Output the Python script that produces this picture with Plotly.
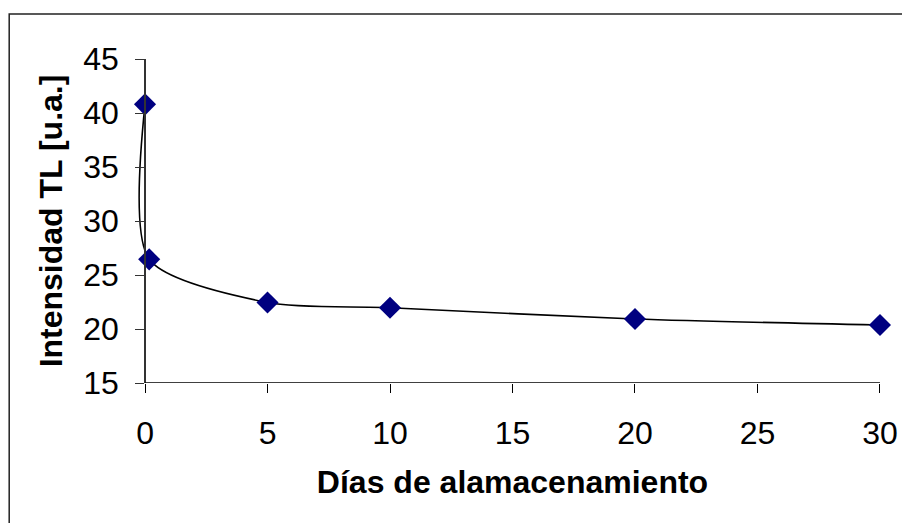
import plotly.graph_objects as go

dias = [0, 0.17, 5, 10, 20, 30]
intensidad = [40.8, 26.45, 22.45, 21.97, 20.93, 20.37]

x_ticks = [0, 5, 10, 15, 20, 25, 30]
y_ticks = [15, 20, 25, 30, 35, 40, 45]

X_PAD = 0.45
X_LO, X_HI = 0, 30
X_MIN, X_MAX = X_LO - X_PAD, X_HI + X_PAD
Y_MIN, Y_MAX = 15, 45

FONT = "Liberation Sans, Arial, sans-serif"

# page body adds an 8px offset; figure is sized to the visible area
W, H = 902, 515
X0_PX, X30_PX = 137, 874          # pixel position of x=0 and x=30
unit = (X30_PX - X0_PX) / (X_HI - X_LO)
L = X0_PX - X_PAD * unit
R = W - (X30_PX + X_PAD * unit)
T, B = 51, 140
pw, ph = W - L - R, H - T - B

fig = go.Figure()
fig.add_trace(go.Scatter(
    x=dias, y=intensidad, mode="lines+markers",
    line=dict(color="black", width=1.6, shape="spline", smoothing=0.75),
    marker=dict(symbol="diamond", size=17, color="#000080"),
    showlegend=False, cliponaxis=False,
))

def px2paper_x(px):
    return (px - L) / pw

def px2paper_y(py):
    return (H - B - py) / ph

# chart-area border (top and left edges visible)
fig.add_shape(type="rect", xref="paper", yref="paper",
              x0=px2paper_x(0.8), x1=px2paper_x(930),
              y0=px2paper_y(540), y1=px2paper_y(6),
              line=dict(color="#222222", width=1.5), fillcolor="rgba(0,0,0,0)")

# x axis line from x=0 to x=30
fig.add_shape(type="line", xref="x", yref="y",
              x0=X_LO, x1=X_HI, y0=Y_MIN, y1=Y_MIN,
              line=dict(color="black", width=1.6))

fig.update_layout(
    width=W, height=H,
    margin=dict(l=L, r=R, t=T, b=B),
    paper_bgcolor="white", plot_bgcolor="white",
    font=dict(family=FONT, color="black", size=32),
)
fig.update_xaxes(
    range=[X_MIN, X_MAX], tickvals=x_ticks, ticktext=[str(v) for v in x_ticks],
    showgrid=False, zeroline=False, showline=False,
    ticks="outside", ticklen=9, tickwidth=1.2, tickcolor="black",
    tickfont=dict(size=32), ticklabelstandoff=13,
    title=dict(text="<b>Días de alamacenamiento</b>", font=dict(size=32), standoff=20),
)
fig.update_yaxes(
    range=[Y_MIN, Y_MAX], tickvals=y_ticks, ticktext=[str(v) for v in y_ticks],
    anchor="free", position=(X_LO - X_MIN) / (X_MAX - X_MIN),
    showgrid=False, zeroline=False, showline=True, linecolor="#333333", linewidth=1.5,
    ticks="outside", ticklen=9, tickwidth=1.2, tickcolor="#333333",
    tickfont=dict(size=32), ticklabelstandoff=10,
    title=dict(text="<b>Intensidad TL [u.a.]</b>", font=dict(size=32), standoff=10),
)

fig.write_html("out.html")
